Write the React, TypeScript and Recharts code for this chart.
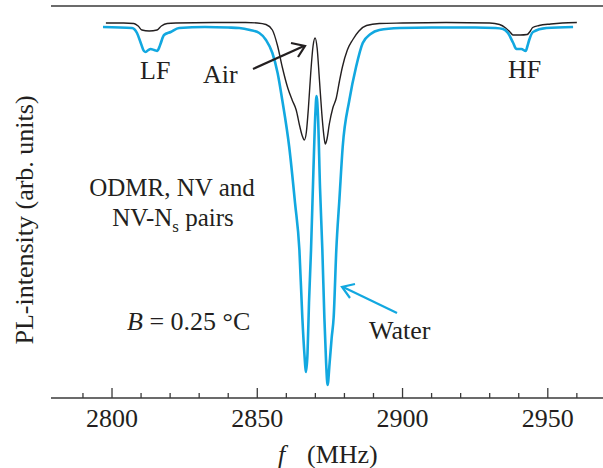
import React from 'react';
import { LineChart, Line, XAxis, YAxis, ReferenceLine } from 'recharts';

// ODMR spectra, frequency in MHz, PL intensity in arbitrary units
const airFreq = [
  2797.9, 2804, 2807.5, 2809, 2810.3, 2812.8, 2815.5, 2817, 2819, 2822, 2835, 2846, 2850, 2853,
  2855.2, 2857, 2858.6, 2860.5, 2862, 2863.4, 2864.6, 2865.5, 2866.2, 2866.9, 2867.6, 2868.4,
  2869.2, 2869.9, 2870.6, 2871.4, 2872.2, 2872.9, 2873.4, 2874, 2874.8, 2876, 2877.2, 2878.3,
  2879.3, 2881, 2882.8, 2885, 2887.6, 2892, 2900, 2915, 2930, 2933.4, 2935.5, 2937, 2938, 2940.5,
  2942.9, 2944, 2944.8, 2947, 2951, 2955, 2960,
];
const airPL = [
  375, 375, 374.5, 372, 368, 367, 368, 372, 374.5, 375, 375.5, 375.5, 375, 373.5,
  368, 352, 331, 310, 298, 288, 272, 262, 258, 266, 290, 325,
  352, 360, 350, 318, 285, 263, 254, 259, 274, 290, 300, 317,
  331, 348, 358, 367, 372.5, 374.5, 375, 375.5, 375, 373.5, 370, 366, 363, 363,
  363.5, 367, 370.5, 372.5, 374, 375, 375.5,
];

const waterFreq = [
  2796.9, 2806.9, 2808.6, 2809.9, 2811, 2811.6, 2812.5, 2813.3, 2814.5, 2815.6, 2816.3, 2816.8,
  2817.9, 2820.2, 2823.1, 2832, 2840, 2843.8, 2847.5, 2850.7, 2853, 2855.2, 2857, 2858.6, 2861,
  2863, 2864.5, 2865.5, 2866.2, 2866.8, 2867.3, 2867.8, 2868.5, 2869.3, 2870, 2870.4, 2870.9,
  2871.6, 2872.4, 2873.1, 2873.7, 2874.2, 2874.9, 2875.6, 2876.3, 2877.2, 2878.3, 2879.4, 2881.7,
  2884, 2886.3, 2889, 2892, 2899, 2910, 2925, 2932, 2934.6, 2936.3, 2938.1, 2939.2, 2940.9,
  2942.4, 2943, 2943.6, 2944.9, 2949.5, 2958.7,
];
const waterPL = [
  371, 370, 365, 355, 347, 346, 348, 349, 348, 347, 351, 355,
  363, 366, 370, 371, 370.5, 370, 368, 365, 358, 345, 325, 298, 251,
  195, 148, 81, 45, 26, 45, 95, 148, 225, 285, 302, 282,
  210, 148, 80, 35, 13, 35, 60, 81, 148, 200, 251, 298,
  331, 355, 364, 368, 370, 370.5, 370.5, 370, 369, 365, 355, 349, 349,
  347, 352, 358, 366, 370, 371,
];

const freqTicks = [
  2790, 2800, 2810, 2820, 2830, 2840, 2850, 2860, 2870, 2880, 2890, 2900, 2910, 2920, 2930,
  2940, 2950, 2960,
];
const labelledTicks = [2800, 2850, 2900, 2950];

const airData = airFreq.map((f, i) => ({ f, pl: airPL[i] }));
const waterData = waterFreq.map((f, i) => ({ f, pl: waterPL[i] }));

const FONT = "'Liberation Serif', 'Times New Roman', serif";
const INK = '#231f20';
const FRAME = '#3a3a3a';
const BLUE = '#12a8e0';

const FreqTick = (props: any) => {
  const { x, y, payload } = props;
  const major = labelledTicks.includes(payload.value);
  return (
    <g>
      <line x1={x} x2={x} y1={y} y2={y - (major ? 10 : 5)} stroke={FRAME} strokeWidth={1.3} />
      {major && (
        <text x={x} y={y + 29} textAnchor="middle" fontFamily={FONT} fontSize={26} fill={INK}>
          {payload.value}
        </text>
      )}
    </g>
  );
};

export default function App() {
  return (
    <div style={{ position: 'absolute', left: 0, top: 0, width: 603, height: 468, background: '#fff' }}>
      <LineChart width={603} height={468} margin={{ top: 6, right: 0, bottom: 0, left: 51 }}>
        <XAxis
          dataKey="f"
          type="number"
          domain={[2779, 2969]}
          allowDataOverflow
          ticks={freqTicks}
          interval={0}
          tick={<FreqTick />}
          tickLine={false}
          tickSize={0}
          tickMargin={0}
          height={70}
          axisLine={{ stroke: FRAME, strokeWidth: 1.5 }}
        />
        <YAxis
          type="number"
          domain={[0, 392]}
          allowDataOverflow
          width={0}
          tick={false}
          tickLine={false}
          axisLine={{ stroke: FRAME, strokeWidth: 1.5 }}
        />
        <ReferenceLine y={392} stroke={FRAME} strokeWidth={1.5} />
        <Line
          data={airData}
          dataKey="pl"
          type="monotone"
          stroke={INK}
          strokeWidth={1.4}
          dot={false}
          isAnimationActive={false}
        />
        <Line
          data={waterData}
          dataKey="pl"
          type="monotone"
          stroke={BLUE}
          strokeWidth={2.6}
          dot={false}
          isAnimationActive={false}
        />
      </LineChart>
      <svg
        width={603}
        height={468}
        style={{ position: 'absolute', left: 0, top: 0, pointerEvents: 'none' }}
        fontFamily={FONT}
        fontSize={26}
        fill={INK}
      >
        <text x={140} y={79}>LF</text>
        <text x={508} y={78}>HF</text>
        <text x={203} y={83}>Air</text>
        <g stroke={INK} strokeWidth={2.2} fill="none">
          <line x1={253} y1={69} x2={304} y2={46} />
          <polyline points="291,43 305,46 298,57" />
        </g>
        <text x={172} y={196} textAnchor="middle" fontSize={25}>ODMR, NV and</text>
        <text x={173} y={226} textAnchor="middle" fontSize={25}>
          NV-N<tspan dy={6} fontSize={17}>s</tspan>
          <tspan dy={-6}> pairs</tspan>
        </text>
        <text x={127} y={330}>
          <tspan fontStyle="italic">B</tspan> = 0.25 °C
        </text>
        <text x={369} y={339}>Water</text>
        <g stroke={BLUE} strokeWidth={2.2} fill="none">
          <line x1={397} y1={313} x2={343} y2={287} />
          <polyline points="355,284 342,287 350,298" />
        </g>
        <text x={33} y={220} textAnchor="middle" transform="rotate(-90 33 220)">
          PL-intensity (arb. units)
        </text>
        <text x={278} y={463} fontStyle="italic">f</text>
        <text x={307} y={463}>(MHz)</text>
      </svg>
    </div>
  );
}
